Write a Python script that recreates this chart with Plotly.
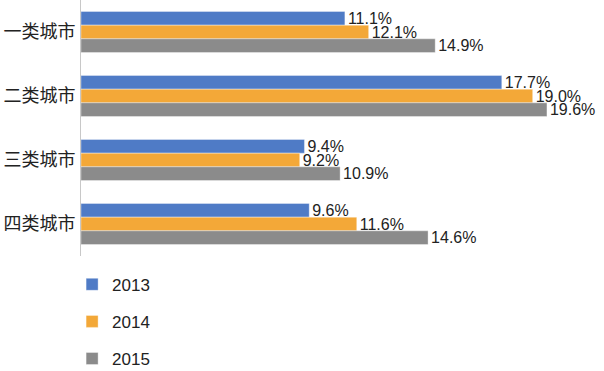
import plotly.graph_objects as go

categories = ["一类城市", "二类城市", "三类城市", "四类城市"]
years = ["2013", "2014", "2015"]
v2013 = [11.1, 17.7, 9.4, 9.6]
v2014 = [12.1, 19.0, 9.2, 11.6]
v2015 = [14.9, 19.6, 10.9, 14.6]
colors = ["#4f7bc6", "#f3a838", "#8b8b8b"]

fig = go.Figure()
for name, vals, c in zip(years, [v2013, v2014, v2015], colors):
    fig.add_trace(go.Bar(
        y=categories, x=vals, name=name, orientation="h",
        marker=dict(color=c, line=dict(color="rgba(255,255,255,0.6)", width=0.6)),
        texttemplate="%{x:.1f}%", textposition="outside", constraintext="none",
        textfont=dict(family="Liberation Sans, Arial", size=16, color="#222222"),
        cliponaxis=False, legendgroup=name,
    ))

fig.update_layout(
    width=604, height=371,
    margin=dict(l=81, r=0, t=0, b=115, autoexpand=False),
    paper_bgcolor="white", plot_bgcolor="white",
    barmode="group", bargap=0.36, bargroupgap=0.0,
    showlegend=True,
    legend=dict(orientation="v", x=-0.017, y=-0.042, xanchor="left", yanchor="top",
                font=dict(family="Liberation Sans, Arial", size=17, color="#222222"),
                tracegroupgap=12, traceorder="grouped", itemwidth=30),
    xaxis=dict(range=[0, 22], showgrid=False, showticklabels=False, zeroline=False,
               showline=False, ticks="", automargin=False),
    yaxis=dict(autorange="reversed", showline=True, linecolor="#c8c8c8", linewidth=1,
               ticks="", showgrid=False, automargin=False, ticklabelstandoff=1,
               tickfont=dict(family="Noto Sans CJK SC", size=18, color="#222222")),
)
fig.write_html("out.html", config={"displayModeBar": False},
               post_script="document.body.style.margin='0';document.body.style.overflow='hidden';")
